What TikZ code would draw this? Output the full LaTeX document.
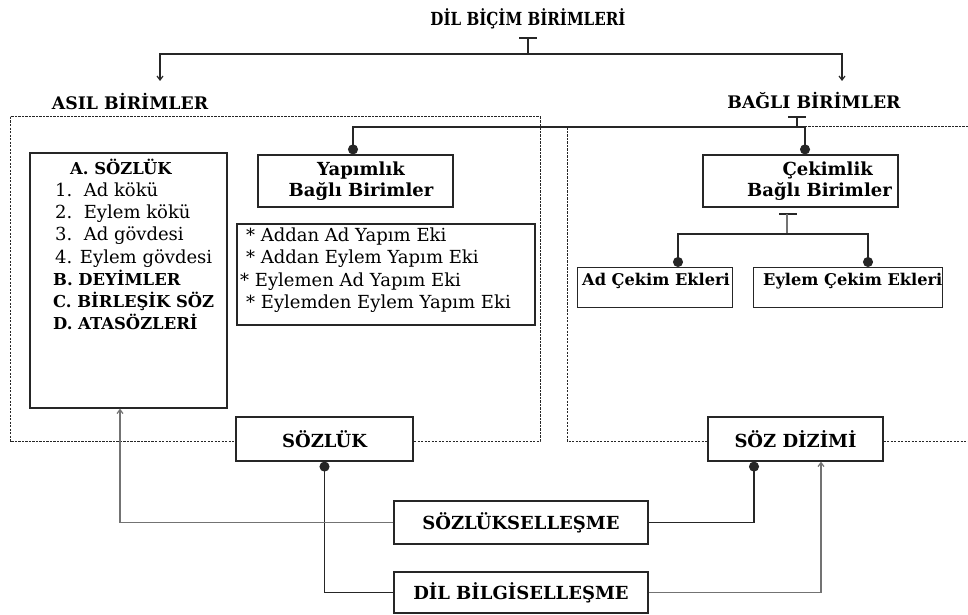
\documentclass[tikz,border=0pt]{standalone}
\usepackage{fontspec}
\setmainfont{DejaVu Serif}
\newfontfamily\condfont[FakeStretch=0.84]{DejaVu Serif}
\newcommand\lb[1]{{\fontsize{16.4}{22.1}\selectfont\bfseries #1}}
\usetikzlibrary{arrows.meta}
\tikzset{
  box/.style={draw=black!85, line width=1.2pt, fill=white, inner sep=0pt},
  bt/.style={font=\fontsize{18}{21}\selectfont\bfseries},
  st/.style={font=\fontsize{16.2}{20}\selectfont\bfseries},
  rt/.style={font=\fontsize{18}{22.1}\selectfont},
  hd/.style={font=\condfont\fontsize{18}{20}\selectfont\bfseries},
  hd2/.style={font=\fontsize{17.3}{20}\selectfont\bfseries},
  ln/.style={line width=1.2pt, draw=black!85},
  gln/.style={line width=1.2pt, draw=black!55},
  dsh/.style={line width=1pt, draw=black!85, dash pattern=on 2.2pt off 1.3pt},
  dot/.style={{Circle[length=10pt,width=10pt]}-},
  tod/.style={-{Circle[length=10pt,width=10pt]}},
  arr/.style={-{Straight Barb[length=4pt,width=6pt]}},
}
\begin{document}
\begin{tikzpicture}[x=1pt,y=-1pt]
\useasboundingbox (0,0) rectangle (968,615);
% dashed containers
\draw[dsh] (10,117) rectangle (540,441);
\draw[dsh] (968,126) -- (567,126) -- (567,441) -- (968,441);
% headings
\node[hd] (title) at (528,19) {DİL BİÇİM BİRİMLERİ};
\node[hd2] (asil) at (130,102) {ASIL BİRİMLER};
\node[hd2] (bagli) at (814,101) {BAĞLI BİRİMLER};
% boxes
\node[box, minimum width=197pt, minimum height=255pt] (sA) at (128.5,280.5) {};
\node[rt, anchor=north west, align=left, inner sep=0pt] (sAtext) at (53,159) {%
\hspace*{17pt}\lb{A. SÖZLÜK}\\
\hspace*{2pt}1.\ \ Ad kökü\\
\hspace*{2pt}2.\ \ Eylem kökü\\
\hspace*{2pt}3.\ \ Ad gövdesi\\
\hspace*{2pt}4. Eylem gövdesi\\
\lb{B. DEYİMLER}\\
\lb{C. BİRLEŞİK SÖZ}\\
\lb{D. ATASÖZLERİ}};
\node[box, minimum width=195pt, minimum height=52pt] (yap) at (355.5,181) {};
\node[bt, align=center, inner sep=0pt] (yapt) at (361,181) {Yapımlık\\Bağlı Birimler};
\node[box, minimum width=298pt, minimum height=101pt] (yapl) at (386,274.5) {};
\node[rt, anchor=north west, align=left, inner sep=0pt] (yapltext) at (240,228) {%
\hspace*{6pt}* Addan Ad Yapım Eki\\
\hspace*{6pt}* Addan Eylem Yapım Eki\\
* Eylemen Ad Yapım Eki\\
\hspace*{6pt}* Eylemden Eylem Yapım Eki};
\node[box, minimum width=195pt, minimum height=52pt] (cek) at (800.5,181) {};
\node[bt, align=right, inner sep=0pt, anchor=east] (cekt) at (892,181) {Çekimlik\hspace*{19pt}\\Bağlı Birimler};
\node[box, minimum width=155pt, minimum height=40pt, anchor=north west] (adc) at (577,267) {};
\node[st, anchor=west, inner sep=0pt] (adct) at (582,281) {Ad Çekim Ekleri};
\node[box, minimum width=189pt, minimum height=40pt, anchor=north west] (eyc) at (753,267) {};
\node[st, anchor=west, inner sep=0pt] (eyct) at (763,281) {Eylem Çekim Ekleri};
\node[box, minimum width=177pt, minimum height=44pt, bt] (soz) at (324.5,439) {SÖZLÜK};
\node[box, minimum width=175pt, minimum height=44pt, bt] (dizim) at (795.5,439) {SÖZ DİZİMİ};
\node[box, minimum width=254pt, minimum height=43pt, bt] (szl) at (521,522.5) {SÖZLÜKSELLEŞME};
\node[box, minimum width=254pt, minimum height=41pt, bt] (dbg) at (521,592.5) {DİL BİLGİSELLEŞME};
% top connectors
\coordinate (tb) at (528,38);
\coordinate (tj) at (528,54);
\coordinate (la) at (160,81);
\coordinate (ra) at (842,81);
\draw[ln] (519,38) -- (537,38);
\draw[ln] (tb) -- (tj);
\draw[ln, arr] (tj) -| (la);
\draw[ln, arr] (tj) -| (ra);
% bagli birimler
\coordinate (bb) at (797,117);
\coordinate (bj) at (797,127);
\draw[ln] (788,117) -- (806,117);
\draw[ln] (bb) -- (bj);
\draw[ln, tod] (805,127) -| (353,127) -- (yap.north -| 353,0);
\draw[ln, tod] (bj) -- (805,127) -- (cek.north -| 805,0);
% cekimlik tbar
\coordinate (cb) at (787,214);
\coordinate (cj) at (787,234);
\draw[ln] (779,214) -- (797,214);
\draw[gln] (cb) -- (cj);
\draw[ln, tod] (cj) -| (adc.north -| 678,0);
\draw[ln, tod] (cj) -| (eyc.north -| 868,0);
% bottom connectors
\draw[ln, dot] (soz.south) |- (dbg.west);
\draw[gln, arr] (szl.west) -| (sA.south -| 120,0);
\draw[ln, dot] (dizim.south -| 754,0) |- (szl.east);
\draw[gln, arr] (dbg.east) -| (dizim.south -| 821,0);
\end{tikzpicture}
\end{document}
